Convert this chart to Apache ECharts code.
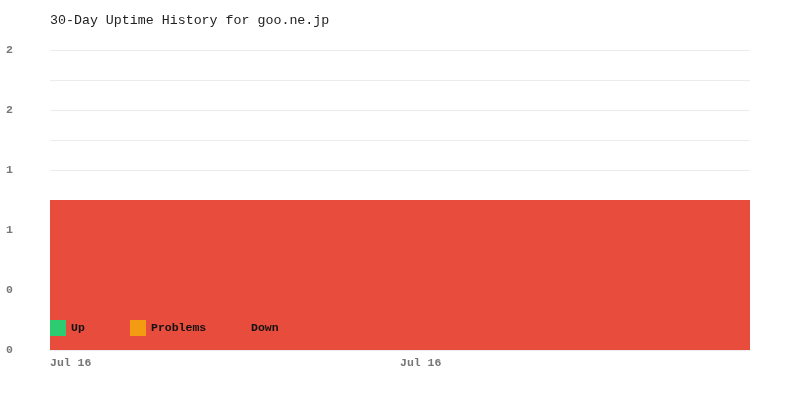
<!doctype html>
<html>
<head>
<meta charset="utf-8">
<style>
  html, body { margin: 0; padding: 0; background: #fff; }
  #chart { width: 800px; height: 400px; }
</style>
<script src="https://cdn.jsdelivr.net/npm/echarts@6/dist/echarts.min.js"></script>
</head>
<body>
<div id="chart"></div>
<script>
// data
var days = ['Jul 16', 'Jul 16'];
var dayLabels = ['Jul 16', 'Jul 16', ''];
var upValues = [0, 0];
var problemValues = [0, 0];
var downValues = [1.25, 1.25];
var yMax = 2.5;
var yStep = 0.25;

var mono = '"Liberation Mono", "DejaVu Sans Mono", monospace';
var chart = echarts.init(document.getElementById('chart'));

var legendText = { fontFamily: mono, fontSize: 11.5, fontWeight: 'bold', color: '#111' };
function legendFor(name, left) {
    return {
        data: [name],
        left: left,
        top: 320,
        padding: 0,
        itemWidth: 16,
        itemHeight: 16,
        itemGap: 0,
        icon: 'rect',
        selectedMode: false,
        textStyle: legendText
    };
}

var option = {
    animation: false,
    title: {
        text: '30-Day Uptime History for goo.ne.jp',
        left: 45,
        top: 9,
        textStyle: { fontFamily: mono, fontSize: 13.3, fontWeight: 'normal', color: '#222' }
    },
    legend: [legendFor('Up', 50), legendFor('Problems', 130), legendFor('Down', 230)],
    grid: { left: 50, right: 50, top: 50, bottom: 50, containLabel: false },
    xAxis: [{
        type: 'category',
        data: days,
        axisLine: { show: false },
        axisTick: { show: false },
        axisLabel: { show: false }
    }, {
        type: 'category',
        data: dayLabels,
        position: 'bottom',
        boundaryGap: false,
        axisLine: { show: false },
        axisTick: { show: false },
        axisLabel: {
            align: 'left',
            margin: 7,
            interval: 0,
            fontFamily: mono,
            fontSize: 11.5,
            fontWeight: 'bold',
            color: '#777'
        }
    }],
    yAxis: {
        type: 'value',
        min: 0,
        max: yMax,
        interval: yStep,
        axisLine: { show: false },
        axisTick: { show: false },
        splitLine: { lineStyle: { color: '#ececec', width: 1 } },
        axisLabel: {
            align: 'left',
            margin: 44,
            fontFamily: mono,
            fontSize: 11.5,
            fontWeight: 'bold',
            color: '#777',
            formatter: function (v) {
                // only every other tick is labelled, floored
                var i = Math.round(v / yStep);
                if (i % 2 !== 0) return '';
                return String(Math.floor(v));
            }
        }
    },
    series: [{
        name: 'Up',
        type: 'bar',
        stack: 'all',
        data: upValues,
        barCategoryGap: '0%',
        itemStyle: { color: '#2ecc71' }
    }, {
        name: 'Problems',
        type: 'bar',
        stack: 'all',
        data: problemValues,
        barCategoryGap: '0%',
        itemStyle: { color: '#f39c12' }
    }, {
        name: 'Down',
        type: 'bar',
        stack: 'all',
        data: downValues,
        barCategoryGap: '0%',
        itemStyle: { color: '#e74c3c' }
    }]
};
chart.setOption(option);
</script>
</body>
</html>
